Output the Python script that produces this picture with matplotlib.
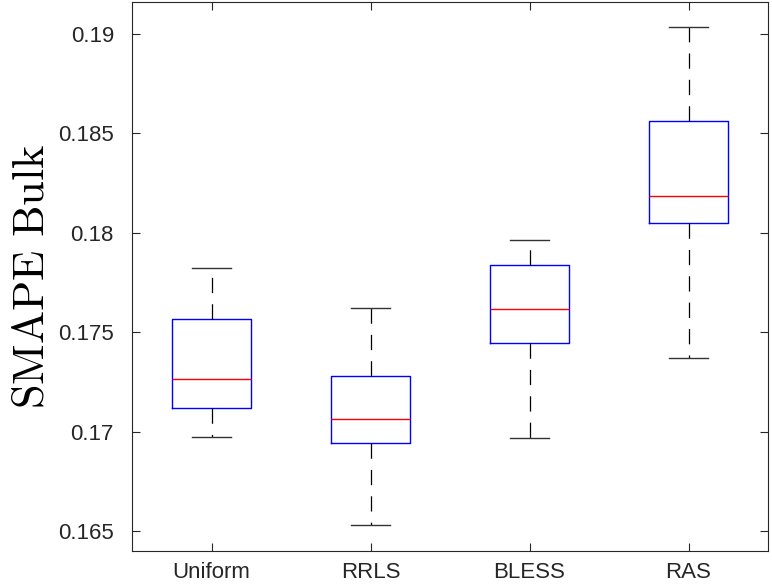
import numpy as np
import matplotlib
matplotlib.use("Agg")
from matplotlib import pyplot as plt

methods = ["Uniform", "RRLS", "BLESS", "RAS"]
whisk_lo = [0.16973, 0.16530, 0.16968, 0.17370]
q1 = [0.17119, 0.16943, 0.17446, 0.18049]
medians = [0.17265, 0.17063, 0.17617, 0.18185]
q3 = [0.17566, 0.17280, 0.17838, 0.18562]
whisk_hi = [0.17823, 0.17622, 0.17964, 0.19035]

yticks = [0.165, 0.17, 0.175, 0.18, 0.185, 0.19]
ytick_labels = ["0.165", "0.17", "0.175", "0.18", "0.185", "0.19"]

plt.rcParams["font.family"] = ["Liberation Sans", "DejaVu Sans"]
plt.rcParams["mathtext.fontset"] = "cm"
plt.rcParams["lines.scale_dashes"] = False

fig = plt.figure(figsize=(7.72, 5.84), dpi=100)
ax = fig.add_axes([132 / 772, 1 - 551 / 584, 636 / 772, 549 / 584])

stats = []
for i in range(len(methods)):
    stats.append({
        "med": medians[i], "q1": q1[i], "q3": q3[i],
        "whislo": whisk_lo[i], "whishi": whisk_hi[i],
        "fliers": [], "label": methods[i],
    })

ax.bxp(
    stats,
    positions=np.arange(1, len(methods) + 1),
    widths=0.5,
    showfliers=False,
    boxprops=dict(color="#0000ff", linewidth=1.0),
    medianprops=dict(color="#ff0000", linewidth=1.0),
    whiskerprops=dict(color="black", linewidth=0.9, linestyle=(0, (11, 8))),
    capprops=dict(color="#333333", linewidth=1.0),
    capwidths=0.25,
)

ax.set_xlim(0.5, 4.5)
ax.set_ylim(0.164, 0.19161)
ax.set_yticks(yticks)
ax.set_yticklabels(ytick_labels)
ax.set_xticks(np.arange(1, len(methods) + 1))
ax.set_xticklabels(methods)

ax.tick_params(axis="both", direction="in", length=6, width=0.8,
               color="#262626", labelsize=16, labelcolor="#262626",
               top=True, right=True)
ax.tick_params(axis="y", pad=13)
ax.tick_params(axis="x", pad=8)
for s in ax.spines.values():
    s.set_color("#262626")
    s.set_linewidth(0.8)

ax.set_ylabel(r"$\mathrm{SMAPE\ Bulk}$", fontsize=32, labelpad=4)

fig.savefig("out.png", dpi=100)
